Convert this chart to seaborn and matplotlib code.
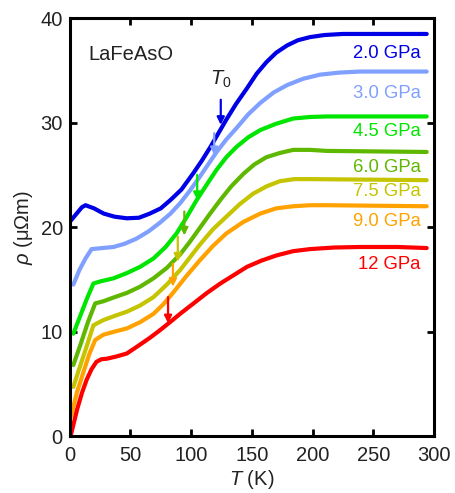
import matplotlib
matplotlib.use("Agg")
import matplotlib.pyplot as plt
import seaborn as sns
import pandas as pd

# Resistivity of LaFeAsO vs temperature at several pressures
pressures = ["2.0 GPa", "3.0 GPa", "4.5 GPa", "6.0 GPa", "7.5 GPa", "9.0 GPa", "12 GPa"]
colors = ["#0000e6", "#80a0ff", "#00e600", "#5fb800", "#c4c400", "#ffa200", "#ff0000"]

T_20 = [0, 5, 10, 13, 20, 28, 37, 47, 57, 66, 75, 83, 92, 102, 109, 116, 122, 129,
        137, 146, 154, 162, 170, 179, 188, 198, 210, 225, 260, 294]
rho_20 = [20.5, 21.2, 21.9, 22.1, 21.8, 21.3, 21.0, 20.85, 20.9, 21.3, 21.8, 22.6, 23.6,
          25.2, 26.4, 27.7, 28.9, 30.3, 31.8, 33.3, 34.7, 35.8, 36.7, 37.4, 37.9, 38.2,
          38.4, 38.5, 38.5, 38.5]

T_30 = [3, 8, 13, 18, 27, 36, 45, 55, 65, 74, 83, 91, 99, 107, 114, 121, 129, 137.5,
        147, 157, 168, 179, 192, 206, 222, 239, 294]
rho_30 = [14.5, 15.9, 17.0, 17.9, 18.0, 18.1, 18.4, 18.9, 19.6, 20.4, 21.3, 22.3, 23.5,
          24.8, 26.0, 27.2, 28.4, 29.5, 30.8, 31.9, 32.9, 33.6, 34.2, 34.6, 34.8, 34.9, 34.9]

T_45 = [3, 8, 14, 19.5, 25, 36, 47, 58, 69, 79, 88, 96, 104.6, 113, 121, 129, 137.5,
        147, 157, 170, 184, 198, 212, 294]
rho_45 = [9.8, 11.3, 13.1, 14.6, 14.8, 15.1, 15.6, 16.2, 17.0, 18.1, 19.4, 20.9, 22.6,
          24.1, 25.5, 26.7, 27.7, 28.6, 29.3, 29.9, 30.4, 30.55, 30.6, 30.6]

T_60 = [3, 9, 15, 21, 27.7, 37, 47, 58, 69, 80, 91, 99, 107, 115, 124, 133, 143, 152,
        162, 173, 184, 198, 212, 294]
rho_60 = [6.8, 8.8, 10.9, 12.7, 12.9, 13.3, 13.7, 14.3, 15.1, 16.1, 17.4, 18.6, 19.9,
          21.2, 22.6, 23.9, 25.1, 26.0, 26.7, 27.1, 27.4, 27.4, 27.3, 27.2]

T_75 = [3, 8, 14, 19.5, 27.7, 37, 47, 58, 69, 80, 91, 99, 107, 118, 129, 140, 151, 162,
        173, 185, 198, 294]
rho_75 = [4.7, 6.5, 8.6, 10.6, 11.1, 11.5, 11.9, 12.5, 13.3, 14.5, 15.9, 17.1, 18.3,
          19.8, 21.0, 22.2, 23.2, 23.9, 24.4, 24.6, 24.6, 24.5]

T_90 = [1, 6, 11, 16, 21, 27.7, 37, 47, 58, 69, 77, 85, 96, 107, 118, 129, 143, 157,
        170, 184, 198, 212, 294]
rho_90 = [1.85, 4.2, 6.0, 7.8, 9.2, 9.7, 10.0, 10.3, 10.9, 11.7, 12.6, 13.7, 15.3, 16.8,
          18.2, 19.4, 20.5, 21.3, 21.8, 22.0, 22.1, 22.1, 22.0]

T_12 = [1, 3.5, 6, 10, 14, 18, 22, 26, 30.5, 38, 47, 56, 66, 74, 82.6, 92, 102, 113,
        124, 135, 146, 158, 170.5, 184, 198, 218, 239, 270, 294]
rho_12 = [0.1, 1.3, 2.5, 4.1, 5.4, 6.4, 7.1, 7.35, 7.4, 7.6, 7.9, 8.6, 9.4, 10.1, 10.9,
          11.8, 12.7, 13.7, 14.6, 15.4, 16.2, 16.8, 17.3, 17.7, 17.9, 18.05, 18.1, 18.1, 18.0]

# T0 markers: temperature, arrow start and end resistivity
t0_T = [124.4, 119, 105, 94.4, 89, 85, 81]
t0_top = [32.2, 29.0, 25.0, 21.5, 19.1, 16.5, 13.3]
t0_tip = [29.8, 26.9, 22.6, 19.2, 16.7, 14.3, 10.8]

# Pressure label heights
label_rho = [36.6, 32.8, 29.2, 25.7, 23.4, 20.5, 16.4]

curves = [(T_20, rho_20), (T_30, rho_30), (T_45, rho_45), (T_60, rho_60),
          (T_75, rho_75), (T_90, rho_90), (T_12, rho_12)]
frames = []
for p, (t, r) in zip(pressures, curves):
    frames.append(pd.DataFrame({"T": t, "rho": r, "P": p}))
df = pd.concat(frames, ignore_index=True)

sns.set_theme(style="ticks")
plt.rcParams["font.family"] = ["Liberation Sans", "DejaVu Sans"]
plt.rcParams["mathtext.fontset"] = "custom"
plt.rcParams["mathtext.rm"] = "Liberation Sans"
plt.rcParams["mathtext.it"] = "Liberation Sans:italic"

fig = plt.figure(figsize=(4.55, 4.93), dpi=100)
ax = fig.add_axes([0.1532, 0.1156, 0.8006, 0.8473])

sns.lineplot(data=df, x="T", y="rho", hue="P", hue_order=pressures,
             palette=colors, sort=False, estimator=None, linewidth=3.0,
             legend=False, ax=ax, solid_joinstyle="round", solid_capstyle="round")

for c, t, y0, y1 in zip(colors, t0_T, t0_top, t0_tip):
    ax.annotate("", xy=(t, y1), xytext=(t, y0),
                arrowprops=dict(arrowstyle="-|>", color=c, lw=1.6,
                                mutation_scale=11, shrinkA=0, shrinkB=0))

for p, c, y in zip(pressures, colors, label_rho):
    ax.text(289, y, p, color=c, fontsize=13.3, ha="right", va="center")

ax.text(15.4, 36.5, "LaFeAsO", fontsize=14.5, ha="left", va="center", color="#222222")
ax.text(124, 34.2, r"$T_0$", fontsize=14.5, ha="center", va="center", color="#222222")

ax.set_xlim(0, 300)
ax.set_ylim(0, 40)
ax.set_xticks([0, 50, 100, 150, 200, 250, 300])
ax.set_yticks([0, 10, 20, 30, 40])
ax.tick_params(direction="in", length=5, width=2, top=True, right=True,
               labelsize=14.5, pad=5, colors="black", labelcolor="#222222")
ax.tick_params(axis="x", pad=7)
for s in ax.spines.values():
    s.set_linewidth(2.2)
    s.set_color("black")

ax.set_xlabel(r"$T$ (K)", fontsize=14.5, labelpad=2, color="#222222")
ax.set_ylabel(r"$\rho$ (μΩm)", fontsize=14.5, labelpad=4, color="#222222")

fig.savefig("out.png", dpi=100)
